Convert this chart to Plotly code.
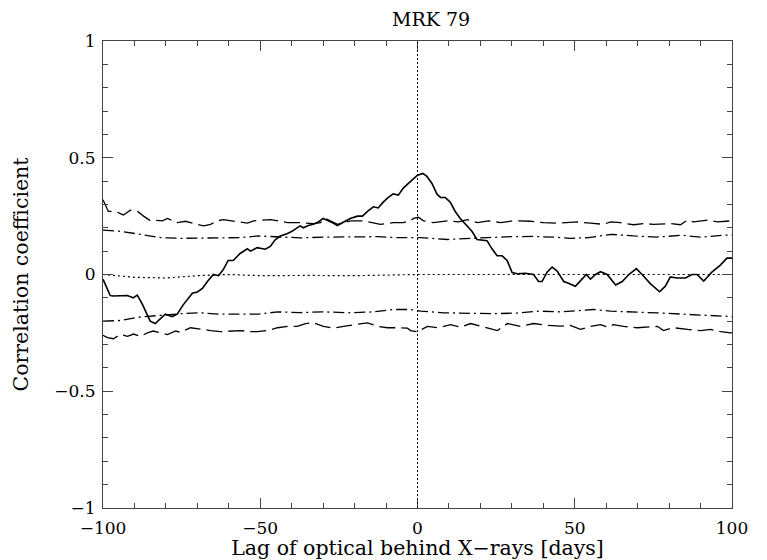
import plotly.graph_objects as go

# ---- data ----
ccf_lag = [-100.0, -97.7, -96.7, -94.5, -92.3, -90.4, -89.1, -87.5, -85.9, -85.0, -83.4, -81.8, -80.2,
           -78.0, -76.4, -74.5, -71.6, -70.0, -68.4, -66.8, -64.9, -63.3, -61.8, -60.2, -58.6, -56.4,
           -54.1, -53.1, -51.0, -48.4, -46.8, -45.2, -43.6, -41.5, -39.9, -38.3, -37.3, -36.3, -34.7,
           -33.1, -31.5, -30.0, -28.3, -26.8, -25.5, -23.6, -21.4, -19.1, -17.5, -15.9, -14.0, -12.5,
           -10.9, -9.3, -7.7, -6.1, -4.5, -2.9, -1.3, 0.0, 1.7, 3.0, 4.6, 6.2, 7.3, 8.8, 10.4, 12.0,
           13.6, 15.7, 17.3, 18.9, 20.5, 22.1, 23.7, 25.3, 26.9, 28.5, 30.1, 31.7, 34.3, 36.9, 38.5,
           39.6, 41.2, 42.8, 44.4, 46.5, 47.6, 50.2, 52.3, 53.7, 55.0, 56.6, 58.2, 60.3, 63.0, 65.1,
           67.2, 69.6, 71.4, 74.1, 77.0, 78.8, 80.4, 82.5, 85.2, 87.3, 88.9, 91.0, 93.6, 96.3, 98.4, 100.0]
ccf_val = [-0.02, -0.09, -0.092, -0.09, -0.09, -0.10, -0.088, -0.127, -0.17, -0.20, -0.21, -0.19, -0.17,
           -0.18, -0.17, -0.13, -0.08, -0.075, -0.06, -0.03, 0.0, -0.005, 0.02, 0.06, 0.06, 0.09,
           0.11, 0.10, 0.115, 0.108, 0.12, 0.15, 0.165, 0.175, 0.185, 0.20, 0.208, 0.20, 0.21,
           0.215, 0.225, 0.24, 0.23, 0.22, 0.21, 0.225, 0.24, 0.25, 0.25, 0.27, 0.29, 0.285,
           0.31, 0.33, 0.345, 0.34, 0.37, 0.39, 0.41, 0.425, 0.433, 0.42, 0.39, 0.344, 0.33, 0.33, 0.31, 0.27,
           0.24, 0.21, 0.185, 0.15, 0.147, 0.145, 0.11, 0.08, 0.08, 0.06, 0.008, 0.003, 0.005, 0.0, -0.03,
           -0.03, 0.01, 0.032, 0.015, -0.03, -0.035, -0.05, -0.02, 0.0, -0.02, 0.0, 0.012, 0.0, -0.045, -0.03,
           0.0, 0.025, 0.0, -0.04, -0.074, -0.05, -0.01, -0.015, -0.015, 0.0, 0.0, -0.028, 0.01, 0.04, 0.07, 0.07]

up_dash_lag = [-100, -98.3, -96, -93.5, -91.3, -89, -87.1, -84.9, -83.3, -81.1, -79.5, -77.9, -76.3, -73.8,
               -71.2, -68, -65.8, -63.6, -61.7, -59.5, -56.3, -54.1, -52.1, -49.9, -46.7, -43.6, -41.3,
               -37.2, -33.1, -30.8, -29.3, -25.4, -21.3, -17.2, -11.8, -7.6, -4.5, -2.2, -1.3, 0.3, 1.9,
               5.1, 9.5, 13, 15.9, 19.1, 22.6, 26.4, 30.5, 35.9, 40.1, 44.5, 48.6, 50.9, 55, 57.2, 59.1,
               61.4, 64.5, 68.7, 71.9, 75, 80.4, 83.6, 85.9, 87.8, 92.2, 95.4, 99.5, 100]
up_dash_val = [0.32, 0.27, 0.27, 0.255, 0.275, 0.27, 0.25, 0.23, 0.232, 0.23, 0.24, 0.23, 0.222, 0.228,
               0.22, 0.208, 0.215, 0.23, 0.235, 0.23, 0.222, 0.22, 0.23, 0.232, 0.235, 0.228, 0.222,
               0.222, 0.218, 0.222, 0.24, 0.215, 0.23, 0.23, 0.215, 0.222, 0.222, 0.23, 0.24, 0.245, 0.23,
               0.222, 0.23, 0.225, 0.235, 0.222, 0.23, 0.222, 0.23, 0.228, 0.222, 0.22, 0.222, 0.225, 0.22, 0.218, 0.215,
               0.225, 0.222, 0.213, 0.218, 0.215, 0.218, 0.213, 0.233, 0.225, 0.233, 0.225, 0.23, 0.23]

lo_dash_lag = [-100, -98.6, -96.7, -94.5, -92.2, -90.3, -88.1, -85.9, -84, -81.7, -79.5, -76.9, -75.4, -72.2,
               -69, -65.8, -62.6, -59.5, -56.3, -53.1, -50.9, -47.7, -44.5, -41.3, -38.2, -35.6, -33.1,
               -29.9, -26.7, -23.5, -19.1, -15.9, -12.7, -9.5, -6.4, -3.2, -2.2, 0, 3.2, 6.4, 10.5, 13.7,
               16.9, 21, 25.4, 28.6, 32.8, 36.9, 41.3, 45.5, 48.6, 51.8, 55, 58.2, 60.4, 62.3, 65.5, 69.9,
               73.1, 76.3, 78.2, 81.4, 85.9, 90, 93.2, 96.4, 99.5, 100]
lo_dash_val = [-0.26, -0.27, -0.275, -0.257, -0.265, -0.255, -0.265, -0.25, -0.242, -0.25, -0.257, -0.242, -0.248, -0.228,
               -0.235, -0.24, -0.245, -0.242, -0.24, -0.245, -0.245, -0.24, -0.228, -0.222, -0.222, -0.21, -0.207,
               -0.222, -0.23, -0.222, -0.215, -0.207, -0.222, -0.228, -0.228, -0.23, -0.24, -0.245, -0.222, -0.228, -0.215, -0.225,
               -0.21, -0.225, -0.24, -0.21, -0.222, -0.21, -0.218, -0.221, -0.218, -0.235, -0.222, -0.215, -0.225, -0.215, -0.222, -0.228,
               -0.225, -0.222, -0.24, -0.228, -0.235, -0.24, -0.235, -0.245, -0.25, -0.25]

up_dd_lag = [-100, -94.5, -88.1, -81.7, -75.4, -69, -62.6, -56.3, -50.6, -44.5, -37.2, -29.9, -21.3, -12.7,
             -6.4, 0, 1, 9.5, 15.9, 22.3, 29.6, 36.9, 43.2, 48.6, 54.3, 61.7, 68.7, 76, 84, 90.3, 97, 100]
up_dd_val = [0.19, 0.185, 0.172, 0.158, 0.155, 0.155, 0.156, 0.158, 0.165, 0.16, 0.157, 0.16, 0.16, 0.162,
             0.158, 0.16, 0.158, 0.15, 0.155, 0.158, 0.162, 0.163, 0.16, 0.155, 0.158, 0.172, 0.165, 0.16, 0.168, 0.16, 0.168, 0.17]

lo_dd_lag = [-100, -94.5, -88.1, -81.7, -75.4, -69, -62.6, -56.3, -50.6, -44.5, -37.2, -29.9, -21.3, -14,
             -7.6, -2.2, 1, 8.2, 15.9, 24.2, 31.5, 38.8, 45.5, 56, 61.4, 70, 77.3, 85.9, 92.2, 96.4, 100]
lo_dd_val = [-0.2, -0.197, -0.182, -0.174, -0.168, -0.164, -0.17, -0.17, -0.17, -0.16, -0.163, -0.16, -0.164, -0.16,
             -0.15, -0.15, -0.157, -0.164, -0.165, -0.168, -0.165, -0.157, -0.16, -0.15, -0.157, -0.16, -0.165, -0.171, -0.175, -0.18, -0.18]

mid_lag = [-100, -90, -80, -70, -60, -50, -35, -20, 0, 25, 50, 75, 100]
mid_val = [0.0, -0.012, -0.015, -0.005, 0.0, -0.005, -0.004, -0.005, 0.0, 0.0, 0.0, 0.0, 0.0]

x_ticks = [-100, -50, 0, 50, 100]
x_ticklabels = ["\u2212100", "\u221250", "0", "50", "100"]
y_ticks = [-1, -0.5, 0, 0.5, 1]
y_ticklabels = ["\u22121", "\u22120.5", "0", "0.5", "1"]

FONT = "DejaVu Serif"
DASH = "16px,6px"
DASHDOT = "11px,4px,2px,4px"

fig = go.Figure()
fig.add_trace(go.Scatter(x=up_dash_lag, y=up_dash_val, mode="lines",
                         line=dict(color="black", width=1.3, dash=DASH)))
fig.add_trace(go.Scatter(x=lo_dash_lag, y=lo_dash_val, mode="lines",
                         line=dict(color="black", width=1.3, dash=DASH)))
fig.add_trace(go.Scatter(x=up_dd_lag, y=up_dd_val, mode="lines",
                         line=dict(color="black", width=1.3, dash=DASHDOT)))
fig.add_trace(go.Scatter(x=lo_dd_lag, y=lo_dd_val, mode="lines",
                         line=dict(color="black", width=1.3, dash=DASHDOT)))
fig.add_trace(go.Scatter(x=mid_lag, y=mid_val, mode="lines",
                         line=dict(color="black", width=1.2, dash="2px,3px")))
fig.add_trace(go.Scatter(x=ccf_lag, y=ccf_val, mode="lines",
                         line=dict(color="black", width=1.6)))

fig.add_shape(type="line", xref="x", yref="y", x0=0, x1=0, y0=-1, y1=1,
              line=dict(color="black", width=1, dash="2px,2px"))

axis_common = dict(
    showgrid=False, zeroline=False, showline=True, linecolor="#444", linewidth=1.2,
    mirror="allticks", ticks="inside", ticklen=10, tickwidth=1, tickcolor="#444",
    tickfont=dict(family=FONT, size=17, color="black"), automargin=False,
)

fig.update_xaxes(range=[-100, 100], tickvals=x_ticks, ticktext=x_ticklabels, ticklabelstandoff=4,
                 minor=dict(dtick=10, ticks="inside", ticklen=5, tickcolor="#444", tickwidth=1),
                 title=dict(text="Lag of optical behind X\u2212rays [days]",
                            font=dict(family=FONT, size=20.5, color="black"), standoff=0),
                 **axis_common)
fig.update_yaxes(range=[-1, 1], tickvals=y_ticks, ticktext=y_ticklabels, ticklabelstandoff=3,
                 minor=dict(dtick=0.1, ticks="inside", ticklen=5, tickcolor="#444", tickwidth=1),
                 title=dict(text="Correlation coefficient",
                            font=dict(family=FONT, size=20.5, color="black"), standoff=20),
                 **axis_common)

fig.add_annotation(text="MRK 79", xref="paper", yref="paper", x=0.5, y=1,
                   xanchor="center", yanchor="middle", xshift=13, yshift=22, showarrow=False,
                   font=dict(family=FONT, size=19, color="black"))

# page has an 8px body margin, so the figure is drawn 8px in from the window corner
fig.update_layout(
    width=759, height=552,
    margin=dict(l=95, r=35, t=33, b=52),
    paper_bgcolor="white", plot_bgcolor="white",
    showlegend=False,
)

fig.write_html("out.html")
